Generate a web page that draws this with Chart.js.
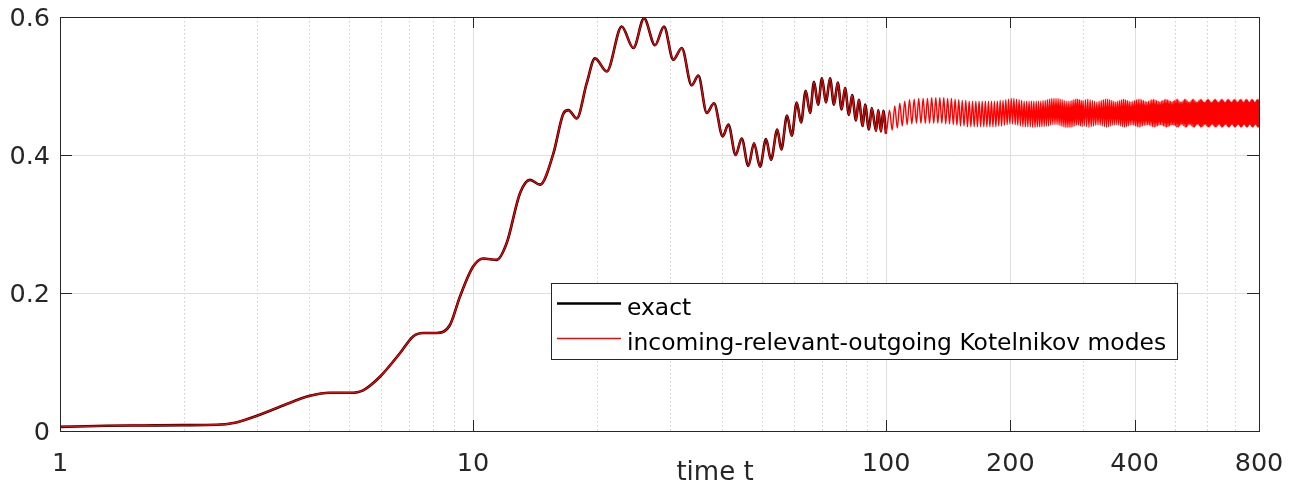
<!DOCTYPE html>
<html>
<head>
<meta charset="utf-8">
<script src="https://cdn.jsdelivr.net/npm/chart.js@4.4.1/dist/chart.umd.min.js"></script>
<style>
  html, body { margin: 0; padding: 0; background: #fff; }
  #wrap { position: relative; width: 1297px; height: 483px; }
</style>
</head>
<body>
<div id="wrap"><canvas id="chart" width="1297" height="483"></canvas></div>
<script>
// Values (time on a log axis)

// both curves coincide up to t = 100
const exactTimes = [
    1, 1.3, 1.6, 2, 2.4, 2.65, 2.8, 3, 3.47, 4.03,
    4.5, 5.04, 5.42, 5.96, 6.66, 7.16, 7.57, 8.17, 8.8, 9.3,
    10, 10.59, 11.41, 12.06, 13, 13.74, 14.53, 15.65, 16.55, 17.02,
    17.83, 18.85, 19.74, 21.08, 22.91, 24.45, 25.95, 27.59, 29, 30.55,
    32.02, 33.84, 35.12, 36.81, 38.33, 40.24, 41.52, 43.25, 44.72, 46.42,
    47.91, 49.54, 51.22, 52.67, 54.55, 55.78, 57.59, 59.12, 60.79, 62.27,
    63.92, 65.46, 66.94, 68.45, 69.98, 71.56, 73.17, 74.83, 76.38, 78.11,
    79.56, 81.36, 82.75, 84.61, 85.89, 87.83, 88.96, 90.95, 92.34, 94.6,
    95.8, 97.2, 98.5, 100
];
const exactValues = [
    0.006, 0.0075, 0.008, 0.0085, 0.009, 0.012, 0.016, 0.022, 0.037, 0.051,
    0.0555, 0.0555, 0.059, 0.079, 0.113, 0.137, 0.142, 0.142, 0.154, 0.195,
    0.238, 0.250, 0.248, 0.272, 0.345, 0.364, 0.357, 0.402, 0.460, 0.465,
    0.453, 0.504, 0.540, 0.521, 0.586, 0.555, 0.598, 0.559, 0.586, 0.538,
    0.555, 0.501, 0.515, 0.461, 0.475, 0.427, 0.444, 0.400, 0.424, 0.384,
    0.417, 0.383, 0.423, 0.393, 0.437, 0.408, 0.457, 0.428, 0.476, 0.447,
    0.493, 0.461, 0.506, 0.473, 0.511, 0.476, 0.511, 0.473, 0.505, 0.466,
    0.497, 0.458, 0.487, 0.450, 0.480, 0.442, 0.473, 0.437, 0.468, 0.435,
    0.465, 0.434, 0.464, 0.431
];

// Kotelnikov approximation continues past t = 100 (peaks and troughs)
const tailTimes = [
    102, 103.5, 105, 106.5, 108, 109.5, 111, 112.5, 114, 115.5,
    117, 118.5, 120, 121.5, 123, 124.5, 126, 127.5, 129, 130.5,
    132, 133.5, 135, 136.5, 138, 139.5, 141, 142.5, 144, 145.5,
    147, 148.5, 150, 151.5, 153, 154.5, 156, 157.5, 159, 160.5,
    162, 163.5, 165, 166.5, 168, 169.5, 171, 172.5, 174, 175.5,
    177, 178.5, 180, 181.5, 183, 184.5, 186, 187.5, 189, 190.5,
    192, 193.5, 195, 196.5, 198, 199.5, 201, 202.5, 204, 205.5,
    207, 208.5, 210, 211.5, 213, 214.5, 216, 217.5, 219, 220.5,
    222, 223.5, 225, 226.5, 228, 229.5, 231, 232.5, 234, 235.5,
    237, 238.5, 240, 241.5, 243, 244.5, 246, 247.5, 249, 250.5,
    252, 253.5, 255, 256.5, 258, 259.5, 261, 262.5, 264, 265.5,
    267, 268.5, 270, 271.5, 273, 274.5, 276, 277.5, 279, 280.5,
    282, 283.5, 285, 286.5, 288, 289.5, 291, 292.5, 294, 295.5,
    297, 298.5,
    300, 302, 304, 306, 308, 310, 312, 314, 316, 318,
    320, 322, 324, 326, 328, 330, 332, 334, 336, 338,
    340, 342, 344, 346, 348, 350, 352, 354, 356, 358,
    360, 362, 364, 366, 368, 370, 372, 374, 376, 378,
    380, 382, 384, 386, 388, 390, 392, 394, 396, 398,
    400, 402, 404, 406, 408, 410, 412, 414, 416, 418,
    420, 422, 424, 426, 428, 430, 432, 434, 436, 438,
    440, 442, 444, 446, 448, 450, 452, 454, 456, 458,
    460, 462, 464, 466, 468, 470, 472, 474, 476, 478,
    480, 482, 484, 486, 488, 490, 492, 494, 496, 498,
    500, 502, 504, 506, 508, 510, 512, 514, 516, 518,
    520, 522, 524, 526, 528, 530, 532, 534, 536, 538,
    540, 542, 544, 546, 548, 550, 552, 554, 556, 558,
    560, 562, 564, 566, 568, 570, 572, 574, 576, 578,
    580, 582, 584, 586, 588, 590, 592, 594, 596, 598,
    600, 602, 604, 606, 608, 610, 612, 614, 616, 618,
    620, 622, 624, 626, 628, 630, 632, 634, 636, 638,
    640, 642, 644, 646, 648, 650, 652, 654, 656, 658,
    660, 662, 664, 666, 668, 670, 672, 674, 676, 678,
    680, 682, 684, 686, 688, 690, 692, 694, 696, 698,
    700, 702, 704, 706, 708, 710, 712, 714, 716, 718,
    720, 722, 724, 726, 728, 730, 732, 734, 736, 738,
    740, 742, 744, 746, 748, 750, 752, 754, 756, 758,
    760, 762, 764, 766, 768, 770, 772, 774, 776, 778,
    780, 782, 784, 786, 788, 790, 792, 794, 796, 798,
    800
];
const tailValues = [
    0.465, 0.436, 0.471, 0.439, 0.475, 0.442, 0.478, 0.444, 0.480, 0.445,
    0.481, 0.446, 0.482, 0.446, 0.482, 0.446, 0.482, 0.446, 0.483, 0.446,
    0.483, 0.446, 0.483, 0.446, 0.483, 0.445, 0.482, 0.445, 0.482, 0.444,
    0.481, 0.443, 0.480, 0.442, 0.479, 0.442, 0.479, 0.441, 0.478, 0.441,
    0.478, 0.441, 0.478, 0.441, 0.478, 0.441, 0.478, 0.441, 0.478, 0.441,
    0.478, 0.441, 0.478, 0.441, 0.478, 0.441, 0.478, 0.442, 0.479, 0.442,
    0.479, 0.443, 0.480, 0.444, 0.481, 0.445, 0.482, 0.445, 0.482, 0.444,
    0.481, 0.443, 0.480, 0.442, 0.479, 0.441, 0.478, 0.441, 0.478, 0.441,
    0.478, 0.441, 0.478, 0.440, 0.478, 0.440, 0.478, 0.441, 0.478, 0.441,
    0.478, 0.441, 0.479, 0.441, 0.479, 0.442, 0.480, 0.442, 0.481, 0.443,
    0.482, 0.444, 0.482, 0.444, 0.482, 0.444, 0.482, 0.443, 0.481, 0.442,
    0.480, 0.441, 0.479, 0.440, 0.478, 0.440, 0.478, 0.440, 0.478, 0.440,
    0.479, 0.441, 0.480, 0.442, 0.481, 0.443, 0.481, 0.443, 0.480, 0.442,
    0.479, 0.441,
    0.479, 0.442, 0.480, 0.441, 0.481, 0.440, 0.480, 0.441, 0.479, 0.442,
    0.478, 0.443, 0.477, 0.444, 0.478, 0.443, 0.479, 0.442, 0.480, 0.441,
    0.481, 0.440, 0.481, 0.441, 0.480, 0.442, 0.479, 0.443, 0.478, 0.443,
    0.477, 0.444, 0.478, 0.443, 0.479, 0.442, 0.480, 0.441, 0.481, 0.440,
    0.480, 0.441, 0.479, 0.442, 0.478, 0.443, 0.477, 0.444, 0.478, 0.443,
    0.479, 0.442, 0.480, 0.441, 0.481, 0.440, 0.481, 0.441, 0.480, 0.442,
    0.479, 0.443, 0.478, 0.443, 0.477, 0.444, 0.478, 0.443, 0.479, 0.442,
    0.480, 0.441, 0.481, 0.440, 0.480, 0.441, 0.479, 0.442, 0.478, 0.443,
    0.477, 0.444, 0.478, 0.443, 0.479, 0.442, 0.480, 0.441, 0.481, 0.440,
    0.480, 0.441, 0.479, 0.442, 0.478, 0.443, 0.477, 0.444, 0.478, 0.443,
    0.479, 0.442, 0.481, 0.440, 0.481, 0.440, 0.479, 0.442, 0.477, 0.444,
    0.477, 0.444, 0.479, 0.442, 0.481, 0.440, 0.481, 0.440, 0.479, 0.442,
    0.477, 0.444, 0.477, 0.444, 0.479, 0.442, 0.481, 0.440, 0.481, 0.440,
    0.479, 0.442, 0.477, 0.444, 0.477, 0.444, 0.479, 0.442, 0.481, 0.440,
    0.481, 0.440, 0.479, 0.442, 0.477, 0.444, 0.477, 0.444, 0.479, 0.442,
    0.481, 0.440, 0.481, 0.440, 0.479, 0.442, 0.477, 0.444, 0.477, 0.444,
    0.479, 0.442, 0.481, 0.440, 0.481, 0.440, 0.479, 0.442, 0.477, 0.444,
    0.477, 0.444, 0.479, 0.442, 0.481, 0.440, 0.481, 0.440, 0.479, 0.442,
    0.477, 0.444, 0.477, 0.444, 0.479, 0.442, 0.481, 0.440, 0.481, 0.440,
    0.479, 0.442, 0.477, 0.444, 0.477, 0.444, 0.479, 0.442, 0.481, 0.440,
    0.481, 0.440, 0.479, 0.442, 0.477, 0.444, 0.477, 0.444, 0.479, 0.442,
    0.481, 0.440, 0.481, 0.440, 0.479, 0.442, 0.477, 0.444, 0.477, 0.444,
    0.479, 0.442, 0.481, 0.440, 0.481, 0.440, 0.479, 0.442, 0.477, 0.444,
    0.477, 0.444, 0.479, 0.442, 0.481, 0.440, 0.481, 0.440, 0.479, 0.442,
    0.477, 0.444, 0.477, 0.444, 0.479, 0.442, 0.481, 0.440, 0.481, 0.440,
    0.479
];

const seriesLabels = ['exact', 'incoming-relevant-outgoing Kotelnikov modes'];
const seriesColors = ['#000000', '#ff0000'];
const xTitle = 'time t';

const xMajorTicks = [1, 10, 100, 200, 400, 800];
const xMinorGrid = [2, 3, 4, 5, 6, 7, 8, 9, 20, 30, 40, 50, 60, 70, 80, 90, 300, 500, 600, 700];
const yTicks = [0, 0.2, 0.4, 0.6];

const AXIS_COLOR = '#262626';
const FONT = '"DejaVu Sans", sans-serif';

function toPoints(times, values) {
    return times.map((t, i) => ({x: t, y: values[i]}));
}

function vLine(ctx, px, y0, y1) {
    const p = Math.round(px) + 0.5;
    ctx.beginPath();
    ctx.moveTo(p, y0);
    ctx.lineTo(p, y1);
    ctx.stroke();
}

function hLine(ctx, py, x0, x1) {
    const p = Math.round(py) + 0.5;
    ctx.beginPath();
    ctx.moveTo(x0, p);
    ctx.lineTo(x1, p);
    ctx.stroke();
}

// grid, box, inward ticks, legend and axis title in the matlab style
const axesDecor = {
    id: 'axesDecor',
    beforeDatasetsDraw(chart) {
        const {ctx, chartArea: area, scales: {x, y}} = chart;
        ctx.save();
        ctx.lineWidth = 1;

        // minor grid (dotted)
        ctx.strokeStyle = '#d0d0d0';
        ctx.setLineDash([1.5, 2.5]);
        xMinorGrid.forEach(v => vLine(ctx, x.getPixelForValue(v), area.top, area.bottom));

        // major grid
        ctx.setLineDash([]);
        ctx.strokeStyle = '#dfdfdf';
        xMajorTicks.forEach(v => vLine(ctx, x.getPixelForValue(v), area.top, area.bottom));
        yTicks.forEach(v => hLine(ctx, y.getPixelForValue(v), area.left, area.right));
        ctx.restore();
    },
    afterDraw(chart) {
        const {ctx, chartArea: area, scales: {x, y}} = chart;
        ctx.save();
        ctx.lineWidth = 1;
        ctx.strokeStyle = AXIS_COLOR;

        // box
        const l = Math.round(area.left) + 0.5, r = Math.round(area.right) + 0.5;
        const t = Math.round(area.top) + 0.5, b = Math.round(area.bottom) + 0.5;
        ctx.strokeRect(l, t, r - l, b - t);

        // inward tick marks
        xMajorTicks.forEach(v => {
            const px = x.getPixelForValue(v);
            vLine(ctx, px, area.bottom, area.bottom - 11);
            vLine(ctx, px, area.top, area.top + 11);
        });
        yTicks.forEach(v => {
            const py = y.getPixelForValue(v);
            hLine(ctx, py, area.left, area.left + 12);
            hLine(ctx, py, area.right, area.right - 12);
        });

        // legend
        const box = {x: 551.5, y: 283.5, w: 626, h: 76};
        ctx.fillStyle = '#ffffff';
        ctx.fillRect(box.x, box.y, box.w, box.h);
        ctx.strokeStyle = AXIS_COLOR;
        ctx.strokeRect(box.x, box.y, box.w, box.h);
        ctx.font = '23.4px ' + FONT;
        ctx.textBaseline = 'alphabetic';
        ctx.textAlign = 'left';
        chart.data.datasets.forEach((ds, i) => {
            const rowY = 303.5 + i * 35;
            ctx.strokeStyle = ds.borderColor;
            ctx.lineWidth = ds.borderWidth;
            ctx.beginPath();
            ctx.moveTo(557, rowY);
            ctx.lineTo(621, rowY);
            ctx.stroke();
            ctx.fillStyle = '#000000';
            ctx.fillText(ds.label, 627, rowY + 11.5);
        });

        // x axis title
        ctx.font = '26px ' + FONT;
        ctx.textAlign = 'center';
        ctx.fillStyle = AXIS_COLOR;
        ctx.fillText(xTitle, 715, 480);
        ctx.restore();
    }
};

const tickFont = {family: FONT, size: 25.5};

new Chart(document.getElementById('chart'), {
    type: 'line',
    data: {
        datasets: [
            {
                label: seriesLabels[0],
                data: toPoints(exactTimes, exactValues),
                borderColor: seriesColors[0],
                borderWidth: 2.6,
                order: 2
            },
            {
                label: seriesLabels[1],
                data: toPoints(exactTimes.concat(tailTimes), exactValues.concat(tailValues)),
                borderColor: seriesColors[1],
                borderWidth: 1.4,
                order: 1
            }
        ]
    },
    options: {
        responsive: false,
        animation: false,
        events: [],
        layout: {padding: {top: 17, right: 38, left: 0, bottom: 0}},
        elements: {
            point: {radius: 0},
            line: {cubicInterpolationMode: 'monotone', fill: false}
        },
        plugins: {
            legend: {display: false},
            tooltip: {enabled: false}
        },
        scales: {
            x: {
                type: 'logarithmic',
                min: 1,
                max: 800,
                afterBuildTicks: s => { s.ticks = xMajorTicks.map(v => ({value: v})); },
                afterFit: s => {
                    s.height = 52;
                    s.paddingLeft = 0;
                    s.paddingRight = 0;
                },
                grid: {display: false, drawTicks: false},
                border: {display: false},
                ticks: {
                    autoSkip: false,
                    maxRotation: 0,
                    padding: 18,
                    color: AXIS_COLOR,
                    font: tickFont,
                    callback: v => String(v)
                }
            },
            y: {
                type: 'linear',
                min: 0,
                max: 0.6,
                afterBuildTicks: s => { s.ticks = yTicks.map(v => ({value: v})); },
                afterFit: s => {
                    s.width = 60;
                    s.paddingTop = 0;
                    s.paddingBottom = 0;
                },
                grid: {display: false, drawTicks: false},
                border: {display: false},
                ticks: {
                    padding: 10,
                    labelOffset: 2,
                    color: AXIS_COLOR,
                    font: tickFont,
                    callback: v => (v === 0 ? '0' : v.toFixed(1))
                }
            }
        }
    },
    plugins: [axesDecor]
});
</script>
</body>
</html>
